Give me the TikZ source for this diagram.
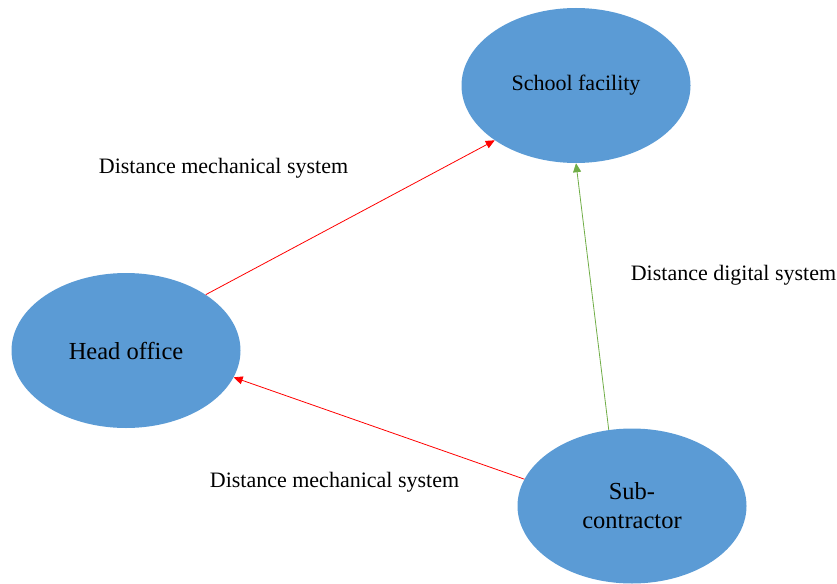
\documentclass[tikz,border=0pt]{standalone}
\usepackage{fontspec}
\setmainfont{Liberation Serif}
\usetikzlibrary{shapes.geometric,arrows.meta}
\definecolor{bubble}{HTML}{5B9BD5}
\definecolor{linkgreen}{HTML}{70AD47}
\begin{document}
\begin{tikzpicture}[x=1pt,y=-1pt,
  place/.style={ellipse,fill=bubble,draw=none,inner sep=0pt,
    minimum width=229pt,minimum height=155pt,align=center,
    font=\fontsize{24.5}{29}\selectfont},
  smallplace/.style={place,font=\fontsize{22}{26}\selectfont},
  caption/.style={anchor=base,inner sep=0pt,font=\fontsize{22}{26}\selectfont},
  link/.style={line width=0.8pt,-{Triangle[length=9pt,width=8pt]}},
  mech/.style={link,red},
  digital/.style={link,linkgreen}]
  \useasboundingbox (0,0) rectangle (837,583);

  % the three parties
  \node[smallplace] (school) at (576,85.5) {\raisebox{-4pt}{School facility}};
  \node[place] (head) at (126,350.5) {\raisebox{-2pt}{Head office}};
  \node[place] (sub) at (632,506) {Sub-\\contractor};

  % links between them
  \draw[mech] (head.35) -- (school.214.8);
  \draw[mech] (sub.166.3) -- (head.-14);
  \draw[digital] (sub.107.5) -- (school.270);

  % link descriptions
  \node[caption] (l1) at (223.5,173) {Distance mechanical system};
  \node[caption] (l2) at (733.5,280) {Distance digital system};
  \node[caption] (l3) at (334.5,487) {Distance mechanical system};
\end{tikzpicture}
\end{document}
